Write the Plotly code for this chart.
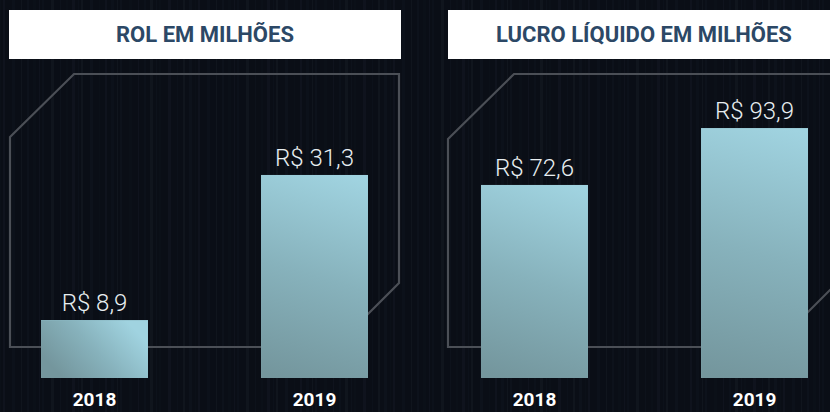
import base64
import plotly.graph_objects as go

years = ["2018", "2019"]
rol_values = [8.9, 31.3]
lucro_values = [72.6, 93.9]
rol_labels = ["R$ 8,9", "R$ 31,3"]
lucro_labels = ["R$ 72,6", "R$ 93,9"]
titles = ["ROL EM MILHÕES", "LUCRO LÍQUIDO EM MILHÕES"]

W, H = 830, 412
BG = "#0a0e16"
BAR = "#8ab7c2"
LINE = "#4b4f56"
TITLE_C = "#2c4866"
BAR_W = 0.486          # bar width in category units
PX_PER_CAT = 220       # pixels per category step
PLOT_H = 378           # plot area height in px

Y_SCALE = [6.49, 2.661]  # px per unit for each panel
X_RANGES = [[-0.4295, 1.4568], [-0.543, 1.343]]


def px(x):
    return x / W


def py(y):
    return 1 - y / H


def gradient_uri(w, h):
    svg = (
        f'<svg xmlns="http://www.w3.org/2000/svg" width="{w:.1f}" height="{h:.1f}" '
        f'viewBox="0 0 {w:.2f} {h:.2f}" preserveAspectRatio="none">'
        f'<defs><linearGradient id="g" gradientUnits="userSpaceOnUse" '
        f'x1="{w*0.2:.2f}" y1="{h:.2f}" x2="{w*0.8:.2f}" y2="0">'
        f'<stop offset="0" stop-color="#74969d"/>'
        f'<stop offset="0.5" stop-color="#87b2bc"/>'
        f'<stop offset="1" stop-color="#a0d3e0"/>'
        f'</linearGradient></defs>'
        f'<rect x="0" y="0" width="{w:.2f}" height="{h:.2f}" fill="url(#g)"/></svg>'
    )
    return "data:image/svg+xml;base64," + base64.b64encode(svg.encode()).decode()


def stripes_uri():
    parts = []
    x = 0
    k = 0
    while x < W:
        sw = 1 + (k * 7) % 3
        op = 0.015 + ((k * 13) % 5) * 0.008
        parts.append(f'<rect x="{x}" y="0" width="{sw}" height="{H}" fill="#8fa3c0" fill-opacity="{op:.3f}"/>')
        x += sw + 2 + (k * 11) % 6
        k += 1
    svg = (f'<svg xmlns="http://www.w3.org/2000/svg" width="{W}" height="{H}" '
           f'viewBox="0 0 {W} {H}" preserveAspectRatio="none">' + "".join(parts) + '</svg>')
    return "data:image/svg+xml;base64," + base64.b64encode(svg.encode()).decode()


fig = go.Figure()
xs = list(range(len(years)))
images = [dict(source=stripes_uri(), xref="paper", yref="paper", x=0, y=1, sizex=1, sizey=1,
               xanchor="left", yanchor="top", sizing="stretch", layer="below")]
for k, (vals, labs) in enumerate([(rol_values, rol_labels), (lucro_values, lucro_labels)]):
    xa = "x" if k == 0 else "x2"
    ya = "y" if k == 0 else "y2"
    fig.add_trace(go.Bar(
        x=xs, y=vals, text=labs, textposition="outside",
        marker=dict(color=BAR, line=dict(width=0)), width=BAR_W,
        textfont=dict(family="Roboto Light, Roboto", size=24, color="#e8eef1", weight=300),
        cliponaxis=False, xaxis=xa, yaxis=ya, showlegend=False, hoverinfo="skip",
    ))
    for i, v in zip(xs, vals):
        images.append(dict(
            source=gradient_uri(BAR_W * PX_PER_CAT, v * Y_SCALE[k]),
            xref=xa, yref=ya, x=i - BAR_W / 2, y=v, sizex=BAR_W, sizey=v,
            xanchor="left", yanchor="top", sizing="stretch", layer="above",
        ))


def octagon(pts):
    d = "M " + " L ".join(f"{px(x):.5f},{py(y):.5f}" for x, y in pts) + " Z"
    return dict(type="path", path=d, xref="paper", yref="paper",
                line=dict(color=LINE, width=2.2), layer="below")


shapes = [
    octagon([(10, 137), (74, 74), (399, 74), (399, 283), (335, 347), (10, 347)]),
    octagon([(448, 139), (514, 74), (837, 74), (837, 283), (773, 347), (448, 347)]),
    dict(type="rect", xref="paper", yref="paper", x0=px(9), x1=px(401), y0=py(59), y1=py(10),
         fillcolor="white", line=dict(width=0), layer="below"),
    dict(type="rect", xref="paper", yref="paper", x0=px(448), x1=px(840), y0=py(59), y1=py(10),
         fillcolor="white", line=dict(width=0), layer="below"),
]

annotations = [
    dict(text=f"<b>{titles[0]}</b>", x=px(205), y=py(35), xref="paper", yref="paper",
         showarrow=False, xanchor="center", yanchor="middle",
         font=dict(family="Roboto", size=22, color=TITLE_C)),
    dict(text=f"<b>{titles[1]}</b>", x=px(644), y=py(35), xref="paper", yref="paper",
         showarrow=False, xanchor="center", yanchor="middle",
         font=dict(family="Roboto", size=22, color=TITLE_C)),
]

axis_common = dict(showgrid=False, zeroline=False, showline=False, ticks="", automargin=False,
                   tickmode="array", tickvals=xs, ticktext=years, ticklabelstandoff=8,
                   tickfont=dict(family="Roboto", size=19, color="white", weight="bold"))
ydom = [1 - PLOT_H / H, 1]

fig.update_layout(
    width=W, height=H,
    margin=dict(l=0, r=0, t=0, b=0, autoexpand=False),
    paper_bgcolor=BG, plot_bgcolor="rgba(0,0,0,0)",
    bargap=0,
    xaxis=dict(domain=[0, 0.5], range=X_RANGES[0], anchor="y", **axis_common),
    xaxis2=dict(domain=[0.5, 1], range=X_RANGES[1], anchor="y2", **axis_common),
    yaxis=dict(domain=ydom, range=[0, PLOT_H / Y_SCALE[0]], visible=False, anchor="x", automargin=False),
    yaxis2=dict(domain=ydom, range=[0, PLOT_H / Y_SCALE[1]], visible=False, anchor="x2", automargin=False),
    shapes=shapes, annotations=annotations, images=images,
    showlegend=False,
)

fig.write_html("out.html", config={"displayModeBar": False},
               post_script="document.body.style.margin='0px';")
